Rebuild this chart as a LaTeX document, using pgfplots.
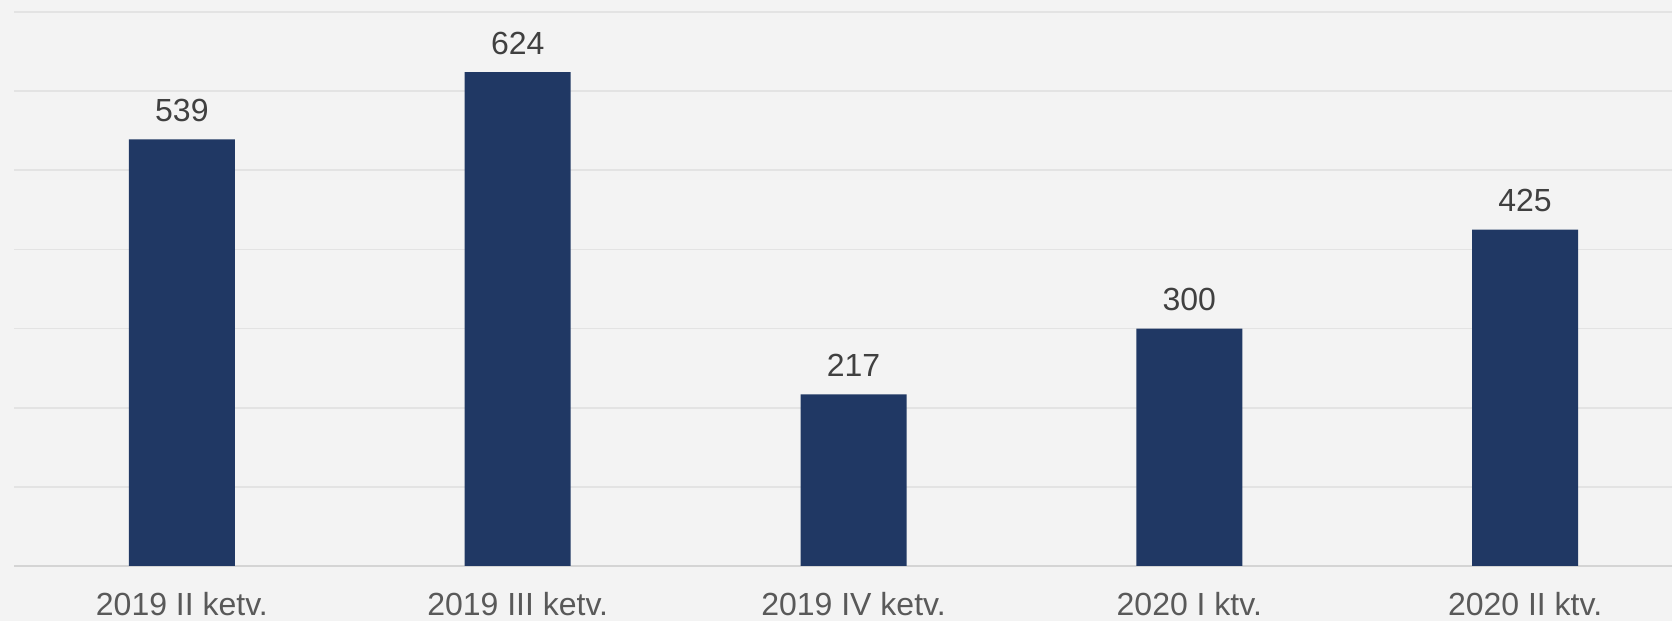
\documentclass[border=0pt]{standalone}
\usepackage{fontspec}
\setmainfont{Liberation Sans}
\usepackage{pgfplots}
\pgfplotsset{compat=1.18}

\definecolor{barblue}{HTML}{203864}
\definecolor{lbl}{HTML}{404040}
\definecolor{ticklbl}{HTML}{595959}
\definecolor{bg}{HTML}{F3F3F3}
\definecolor{gridc}{HTML}{E3E3E3}
\definecolor{basec}{HTML}{D4D4D4}

\begin{document}
\begin{tikzpicture}
\fill[bg] (0,0) rectangle (836pt,310.5pt);
\path[use as bounding box] (0,0) rectangle (836pt,310.5pt);
\begin{axis}[
    at={(7pt,27.5pt)}, anchor=south west,
    scale only axis,
    width=829pt, height=277pt,
    ybar, bar width=53pt,
    xmin=-0.5, xmax=4.4375,
    ymin=0, ymax=700,
    axis line style={draw=none},
    xtick=data,
    xticklabels={2019 II ketv., 2019 III ketv., 2019 IV ketv., 2020 I ktv., 2020 II ktv.},
    xticklabel style={font=\fontsize{16}{19}\selectfont, text=ticklbl, anchor=base, yshift=-25pt},
    ytick={100,200,...,700},
    yticklabels={},
    major tick length=0pt,
    ymajorgrids=true,
    grid style={gridc, line width=0.8pt},
    extra y ticks={0},
    extra y tick labels={},
    extra y tick style={grid style={basec, line width=1pt}},
    nodes near coords,
    /pgf/number format/assume math mode=true,
    nodes near coords style={font=\fontsize{16}{19}\selectfont, text=lbl, anchor=base, yshift=9pt},
    clip=false,
]
\addplot[fill=barblue, draw=none] coordinates {
    (0,539) (1,624) (2,217) (3,300) (4,425)
};
\end{axis}
\end{tikzpicture}
\end{document}
